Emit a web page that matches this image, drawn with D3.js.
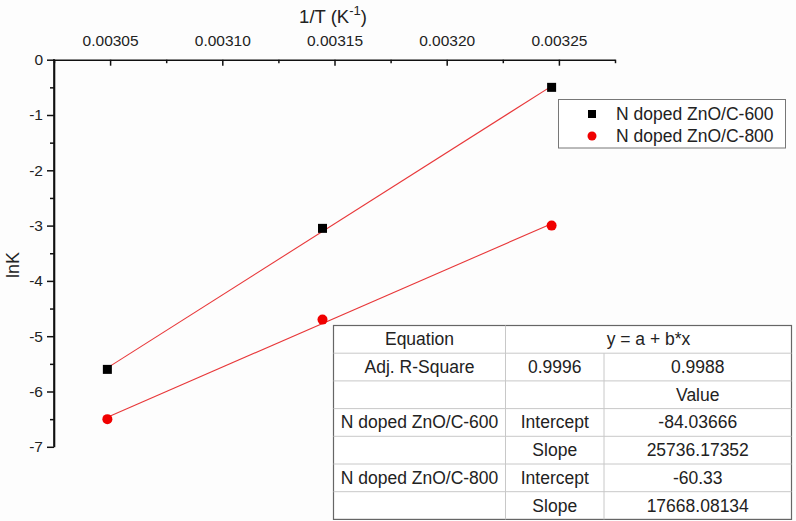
<!DOCTYPE html>
<html><head><meta charset="utf-8">
<script src="https://cdn.jsdelivr.net/npm/d3@7"></script>
<style>
body{margin:0;background:#fdfdfd;}
svg{display:block;font-family:"Liberation Sans",Arial,sans-serif;}
</style></head>
<body><svg id="c" width="796" height="521"></svg>
<script>
// Data
const invT = [1/328, 1/318, 1/308];
const lnK600 = [-5.6, -3.05, -0.5];
const lnK800 = [-6.5, -4.7, -3.0];
const seriesNames = ["N doped ZnO/C-600", "N doped ZnO/C-800"];
const fitIntercepts = [-84.03666, -60.33];
const fitSlopes = [25736.17352, 17668.08134];
const xTicks = [0.00305, 0.00310, 0.00315, 0.00320, 0.00325];
const xMinorTicks = [0.003025, 0.003075, 0.003125, 0.003175, 0.003225, 0.003275];
const yTicks = [0, -1, -2, -3, -4, -5, -6, -7];
const yMinorTicks = [-0.5, -1.5, -2.5, -3.5, -4.5, -5.5, -6.5];
const tableRows = [
  ["Equation", "y = a + b*x", null],
  ["Adj. R-Square", "0.9996", "0.9988"],
  ["", "", "Value"],
  ["N doped ZnO/C-600", "Intercept", "-84.03666"],
  ["", "Slope", "25736.17352"],
  ["N doped ZnO/C-800", "Intercept", "-60.33"],
  ["", "Slope", "17668.08134"]
];

(function(){
const svg = d3.select("#c");
const pL = 54, pR = 615, pT = 59.7, pB = 446.8;
const x = d3.scaleLinear().domain([0.003025, 0.003275]).range([pL, pR]);
const y = d3.scaleLinear().domain([-7, 0]).range([pB, pT]);

// X axis (top, ticks inward)
svg.append("g").attr("transform", `translate(0,${pT})`)
  .call(d3.axisTop(x).tickValues(xTicks).tickFormat(d => d.toFixed(5))
    .tickSizeInner(-6).tickSizeOuter(0).tickPadding(14));
const xMinor = svg.append("g").attr("transform", `translate(0,${pT})`)
  .call(d3.axisTop(x).tickValues(xMinorTicks).tickFormat("").tickSizeInner(-3.5).tickSizeOuter(0));
xMinor.select(".domain").remove();
// Y axis (left, ticks outward)
svg.append("g").attr("transform", `translate(${pL},0)`)
  .call(d3.axisLeft(y).tickValues(yTicks).tickFormat(d => String(d)).tickSizeInner(7).tickSizeOuter(0).tickPadding(4));
const yMinor = svg.append("g").attr("transform", `translate(${pL},0)`)
  .call(d3.axisLeft(y).tickValues(yMinorTicks).tickFormat("").tickSizeInner(4).tickSizeOuter(0));
yMinor.select(".domain").remove();
svg.selectAll(".domain").attr("stroke", "#111").attr("stroke-width", 1.6);
svg.selectAll(".tick line").attr("stroke", "#111").attr("stroke-width", 1.5);
svg.selectAll(".tick text").attr("font-size", 15.5).attr("fill", "#222")
  .attr("font-family", "'Liberation Sans',Arial,sans-serif");
svg.append("line").attr("x1", pL).attr("x2", pL).attr("y1", pT - 0.8).attr("y2", pB)
  .attr("stroke", "#111").attr("stroke-width", 1.6);

// Titles
const xt = svg.append("text").attr("x", 333).attr("y", 23).attr("text-anchor", "middle")
  .attr("font-size", 18.5).attr("fill", "#222");
xt.append("tspan").text("1/T (K");
xt.append("tspan").attr("dy", -8).attr("font-size", 13).text("-1");
xt.append("tspan").attr("dy", 8).text(")");
svg.append("text").attr("transform", "translate(19,265) rotate(-90)").attr("text-anchor", "middle")
  .attr("font-size", 18).attr("fill", "#222").text("lnK");

// Fit lines
[lnK600, lnK800].forEach((vals, i) => {
  const x0 = d3.min(invT), x1 = d3.max(invT);
  svg.append("line")
    .attr("x1", x(x0)).attr("y1", y(fitIntercepts[i] + fitSlopes[i] * x0))
    .attr("x2", x(x1)).attr("y2", y(fitIntercepts[i] + fitSlopes[i] * x1))
    .attr("stroke", "#e8383a").attr("stroke-width", 1.1);
});
// Points
svg.append("g").selectAll("rect").data(invT.map((t, i) => [t, lnK600[i]])).join("rect")
  .attr("x", d => x(d[0]) - 4.5).attr("y", d => y(d[1]) - 4.5)
  .attr("width", 9).attr("height", 9).attr("fill", "#000");
svg.append("g").selectAll("circle").data(invT.map((t, i) => [t, lnK800[i]])).join("circle")
  .attr("cx", d => x(d[0])).attr("cy", d => y(d[1])).attr("r", 5).attr("fill", "#f00000");

// Legend
const lg = svg.append("g");
lg.append("rect").attr("x", 558.5).attr("y", 99.5).attr("width", 227).attr("height", 48.5)
  .attr("fill", "#fff").attr("stroke", "#777").attr("stroke-width", 1);
lg.append("rect").attr("x", 588).attr("y", 110).attr("width", 8).attr("height", 8).attr("fill", "#000");
lg.append("circle").attr("cx", 592).attr("cy", 136).attr("r", 4.5).attr("fill", "#f00000");
seriesNames.forEach((n, i) => {
  lg.append("text").attr("x", 616).attr("y", 120 + i * 22).attr("font-size", 17.5).attr("fill", "#222").text(n);
});

// Table
const tx = [333.5, 505.5, 604, 791.5];
const ty0 = 325.5, rh = 27.7;
const tg = svg.append("g");
tg.append("rect").attr("x", tx[0]).attr("y", ty0).attr("width", tx[3] - tx[0]).attr("height", rh * 7)
  .attr("fill", "#fff").attr("stroke", "#666").attr("stroke-width", 1.2);
for (let r = 1; r < 7; r++) {
  tg.append("line").attr("x1", tx[0]).attr("x2", tx[3]).attr("y1", ty0 + r * rh).attr("y2", ty0 + r * rh)
    .attr("stroke", "#c8c8c8");
}
tg.append("line").attr("x1", tx[1]).attr("x2", tx[1]).attr("y1", ty0).attr("y2", ty0 + 7 * rh).attr("stroke", "#c8c8c8");
tg.append("line").attr("x1", tx[2]).attr("x2", tx[2]).attr("y1", ty0 + rh).attr("y2", ty0 + 7 * rh).attr("stroke", "#c8c8c8");
tableRows.forEach((row, r) => {
  const cy = ty0 + r * rh + rh / 2 + 6;
  row.forEach((cell, c) => {
    if (cell === null || cell === "") return;
    let cx = (tx[c] + tx[c + 1]) / 2;
    if (r === 0 && c === 1) cx = (tx[1] + tx[3]) / 2;
    tg.append("text").attr("x", cx).attr("y", cy).attr("text-anchor", "middle")
      .attr("font-size", 17.5).attr("fill", "#222").text(cell);
  });
});
})();
</script></body></html>
